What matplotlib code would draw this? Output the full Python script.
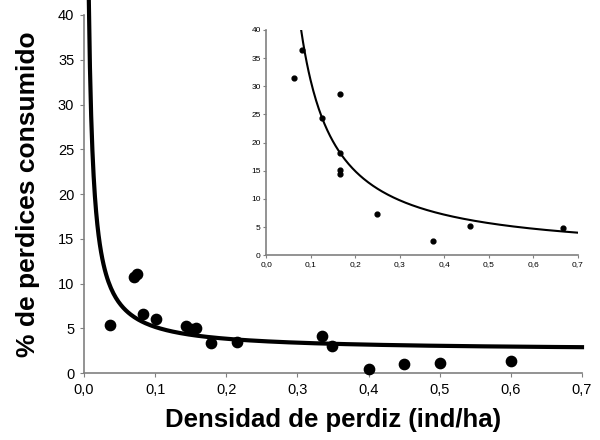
import numpy as np
import matplotlib
matplotlib.use("Agg")
import matplotlib.pyplot as plt
from matplotlib.ticker import FuncFormatter

# main panel: observed points
main_x = [0.037, 0.070, 0.074, 0.083, 0.101, 0.143, 0.150, 0.157, 0.179, 0.215,
          0.334, 0.349, 0.400, 0.450, 0.500, 0.600]
main_y = [5.4, 10.7, 11.1, 6.6, 6.0, 5.3, 4.9, 5.0, 3.4, 3.5,
          4.2, 3.0, 0.5, 1.0, 1.1, 1.3]
# fitted curve y = a + b / x
main_fit_a = 2.52
main_fit_b = 0.264

# inset panel
inset_x = [0.062, 0.081, 0.124, 0.165, 0.165, 0.165, 0.165, 0.249, 0.375, 0.458, 0.667]
inset_y = [31.5, 36.4, 24.3, 28.7, 18.2, 15.1, 14.5, 7.4, 2.5, 5.2, 4.9]
# fitted curve y = a * x ** b
inset_fit_a = 2.75
inset_fit_b = -1.05

x_ticks = [0.0, 0.1, 0.2, 0.3, 0.4, 0.5, 0.6, 0.7]
y_ticks = [0, 5, 10, 15, 20, 25, 30, 35, 40]

plt.rcParams["font.family"] = ["Liberation Sans", "DejaVu Sans"]

comma = FuncFormatter(lambda v, p: f"{v:.1f}".replace(".", ","))


def style(ax, size, tl, pad):
    for s in ("top", "right"):
        ax.spines[s].set_visible(False)
    for s in ("left", "bottom"):
        ax.spines[s].set_color("#808080")
        ax.spines[s].set_linewidth(1.2)
    ax.set_xlim(0, 0.7)
    ax.set_ylim(0, 40)
    ax.set_xticks(x_ticks)
    ax.set_yticks(y_ticks)
    ax.xaxis.set_major_formatter(comma)
    ax.tick_params(labelsize=size, length=tl, color="#808080", pad=pad)


fig = plt.figure(figsize=(6, 4.4), dpi=100)
ax = fig.add_axes([0.14, 0.152, 0.83, 0.814])
style(ax, 10.5, 3, 4)
xs = np.linspace(0.0066, 0.7, 400)
ax.plot(xs, main_fit_a + main_fit_b / xs, color="black", lw=3, clip_on=False)
ax.scatter(main_x, main_y, s=55, color="black", zorder=3, clip_on=False)
ax.set_xlabel("Densidad de perdiz (ind/ha)", fontsize=18.5, fontweight="bold", labelpad=8)
ax.set_ylabel("% de perdices consumido", fontsize=19, fontweight="bold", labelpad=13)

ins = fig.add_axes([0.444, 0.42, 0.519, 0.512])
style(ins, 6, 2, 2)
xi = np.linspace(0.074, 0.7, 300)
ins.plot(xi, inset_fit_a * xi ** inset_fit_b, color="black", lw=1.5)
ins.scatter(inset_x, inset_y, s=12, color="black", zorder=3, clip_on=False)

fig.savefig("out.png", dpi=100)
